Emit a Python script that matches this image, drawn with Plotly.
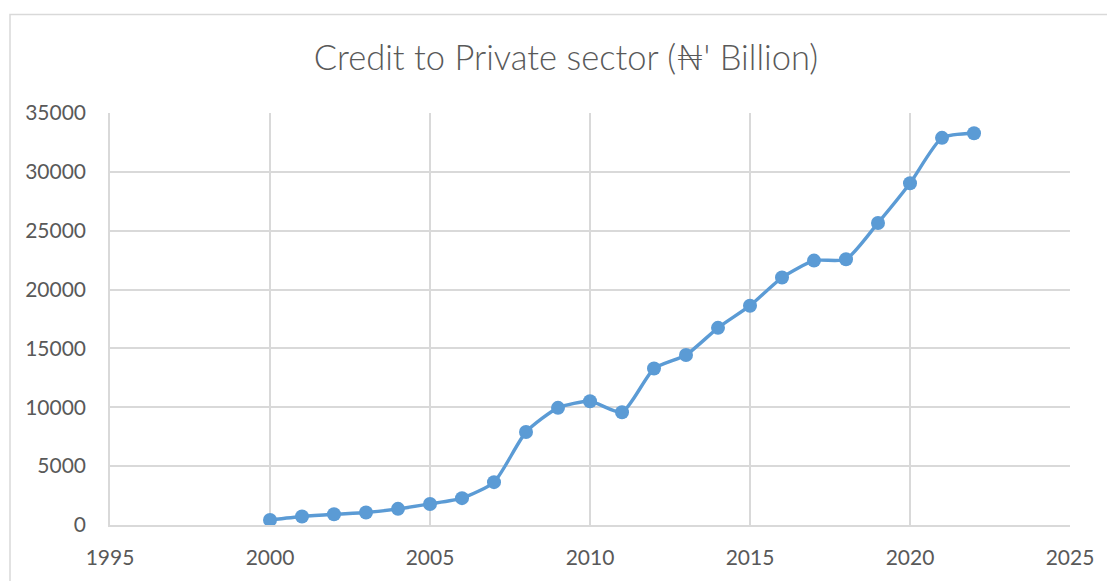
import plotly.graph_objects as go

years = [2000, 2001, 2002, 2003, 2004, 2005, 2006, 2007, 2008, 2009, 2010,
         2011, 2012, 2013, 2014, 2015, 2016, 2017, 2018, 2019, 2020, 2021, 2022]
credit = [430, 720, 910, 1060, 1370, 1790, 2280, 3640, 7900, 9950, 10510,
          9580, 13290, 14440, 16750, 18630, 21020, 22460, 22570, 25660, 29030, 32890, 33280]

title_text = "Credit to Private sector (₦' Billion)"
x_ticks = [1995, 2000, 2005, 2010, 2015, 2020, 2025]
y_ticks = [0, 5000, 10000, 15000, 20000, 25000, 30000, 35000]

W, H = 1107, 581
L, R, T, B = 110, 37, 113, 54
pw, ph = W - L - R, H - T - B

grey = "#595959"
grid = "#d9d9d9"
font_fam = "Lato, 'Noto Sans', 'DejaVu Sans', sans-serif"

fig = go.Figure(go.Scatter(
    x=years, y=credit, mode="lines+markers",
    line=dict(color="#5B9BD5", width=3.4, shape="spline", smoothing=0.6),
    marker=dict(color="#5B9BD5", size=14),
    showlegend=False, hoverinfo="x+y",
))

fig.update_layout(
    width=W, height=H,
    margin=dict(l=L, r=R, t=T, b=B),
    paper_bgcolor="white", plot_bgcolor="white",
    font=dict(family=font_fam, color=grey, size=21),
    title=dict(text=title_text, x=566 / W, xanchor="center", y=1 - 58 / H, yanchor="middle",
               font=dict(family=font_fam, size=34.5, color=grey, weight=300)),
    xaxis=dict(range=[1995, 2025], tickvals=x_ticks, ticktext=[str(v) for v in x_ticks],
               showgrid=True, gridcolor=grid, gridwidth=1.5,
               zeroline=False, showline=True, linecolor=grid, linewidth=1.5,
               ticks="outside", ticklen=13, tickcolor="rgba(0,0,0,0)",
               tickfont=dict(size=21, color=grey)),
    yaxis=dict(range=[0, 35000], tickvals=y_ticks, ticktext=[str(v) for v in y_ticks],
               showgrid=True, gridcolor=grid, gridwidth=1.5,
               zeroline=False, showline=True, linecolor=grid, linewidth=1.5,
               ticks="outside", ticklen=18, tickcolor="rgba(0,0,0,0)",
               tickfont=dict(size=21, color=grey)),
    shapes=[dict(type="rect", xref="paper", yref="paper",
                 x0=(10 - L) / pw, x1=(W + 20 - L) / pw,
                 y0=(H - B - (H + 20)) / ph, y1=(H - B - 14) / ph,
                 line=dict(color=grid, width=1.5), fillcolor="rgba(0,0,0,0)", layer="below")],
)

fig.write_html("out.html")
